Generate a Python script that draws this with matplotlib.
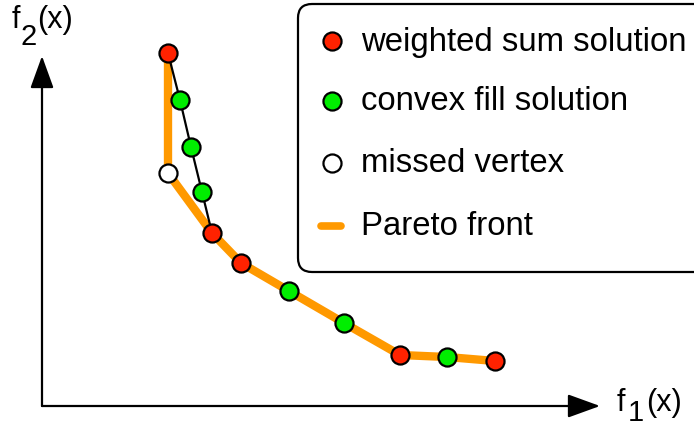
import matplotlib.pyplot as plt
from matplotlib.patches import FancyBboxPatch

plt.rcParams['font.family'] = ['Liberation Sans', 'DejaVu Sans']

# objective values (f1, f2) of the points
ws_f1 = [12.6, 17.0, 19.9, 35.8, 45.3]          # weighted sum solutions
ws_f2 = [35.3, 17.3, 14.3, 5.1, 4.5]
cf_f1 = [13.8, 14.9, 16.0, 24.7, 30.2, 40.5]    # convex fill solutions
cf_f2 = [30.6, 25.9, 21.4, 11.5, 8.3, 4.9]
miss_f1 = [12.6]                                # missed vertex
miss_f2 = [23.3]

# pareto front through all vertices
front_f1 = [12.6, 12.6, 17.0, 19.9, 24.7, 30.2, 35.8, 40.5, 45.3]
front_f2 = [35.3, 23.3, 17.3, 14.3, 11.5, 8.3, 5.1, 4.9, 4.5]

# convex fill segment between the two upper weighted sum points
fill_f1 = [12.6, 13.8, 14.9, 16.0, 17.0]
fill_f2 = [35.3, 30.6, 25.9, 21.4, 17.3]

legend_labels = ['weighted sum solution', 'convex fill solution',
                 'missed vertex', 'Pareto front']

RED = '#ff2200'
GREEN = '#00ee00'
ORANGE = '#ff9900'

fig = plt.figure(figsize=(6.94, 4.27), dpi=100)
ax = fig.add_axes([0, 0, 1, 1])
ax.set_xlim(-4.2, 65.2)
ax.set_ylim(-2.0, 40.7)
ax.axis('off')

# axes with arrows
arrow = dict(arrowstyle='-|>,head_length=0.8,head_width=0.29', mutation_scale=25,
             lw=1.6, color='black', shrinkA=0, shrinkB=0)
ax.annotate('', xy=(55.8, 0), xytext=(0, 0), arrowprops=arrow)
ax.annotate('', xy=(0, 35.0), xytext=(0, 0), arrowprops=arrow)

# lines
ax.plot(front_f1, front_f2, color=ORANGE, lw=6, solid_capstyle='butt', zorder=2)
ax.plot(fill_f1, fill_f2, color='black', lw=1.6, zorder=3)

mk = dict(linestyle='none', marker='o', markersize=13, markeredgecolor='black',
          markeredgewidth=1.6, zorder=4)
ax.plot(ws_f1, ws_f2, markerfacecolor=RED, **mk)
ax.plot(cf_f1, cf_f2, markerfacecolor=GREEN, **mk)
ax.plot(miss_f1, miss_f2, markerfacecolor='white', **mk)

# overlay in pixel coordinates for axis names and legend
lax = fig.add_axes([0, 0, 1, 1])
lax.set_xlim(0, 694)
lax.set_ylim(427, 0)
lax.axis('off')


def axis_name(x, y, sub, x_sub, y_sub, x_par):
    lax.text(x, y, 'f', fontsize=22, ha='left', va='baseline')
    lax.text(x_sub, y_sub, sub, fontsize=21, ha='left', va='baseline')
    lax.text(x_par, y, '(x)', fontsize=22, ha='left', va='baseline')


axis_name(12, 28, '2', 21, 45, 37)
axis_name(617, 411, '1', 628, 421, 646)

lax.add_patch(FancyBboxPatch((298, 5), 420, 268, boxstyle='round,pad=0,rounding_size=14',
                             facecolor='white', edgecolor='black', lw=1.6))
rows = [42, 102, 164, 227]
lmk = dict(linestyle='none', marker='o', markersize=13, markeredgecolor='black',
           markeredgewidth=1.6)
lax.plot([332], [rows[0]], markerfacecolor=RED, **lmk)
lax.plot([332], [rows[1]], markerfacecolor=GREEN, **lmk)
lax.plot([332], [rows[2]], markerfacecolor='white', **lmk)
lax.plot([321, 341], [rows[3], rows[3]], color=ORANGE, lw=5.5, solid_capstyle='round')
for y, lab in zip(rows, legend_labels):
    lax.text(361, y, lab, fontsize=23.7, ha='left', va='center')

fig.savefig('out.png', dpi=100)
